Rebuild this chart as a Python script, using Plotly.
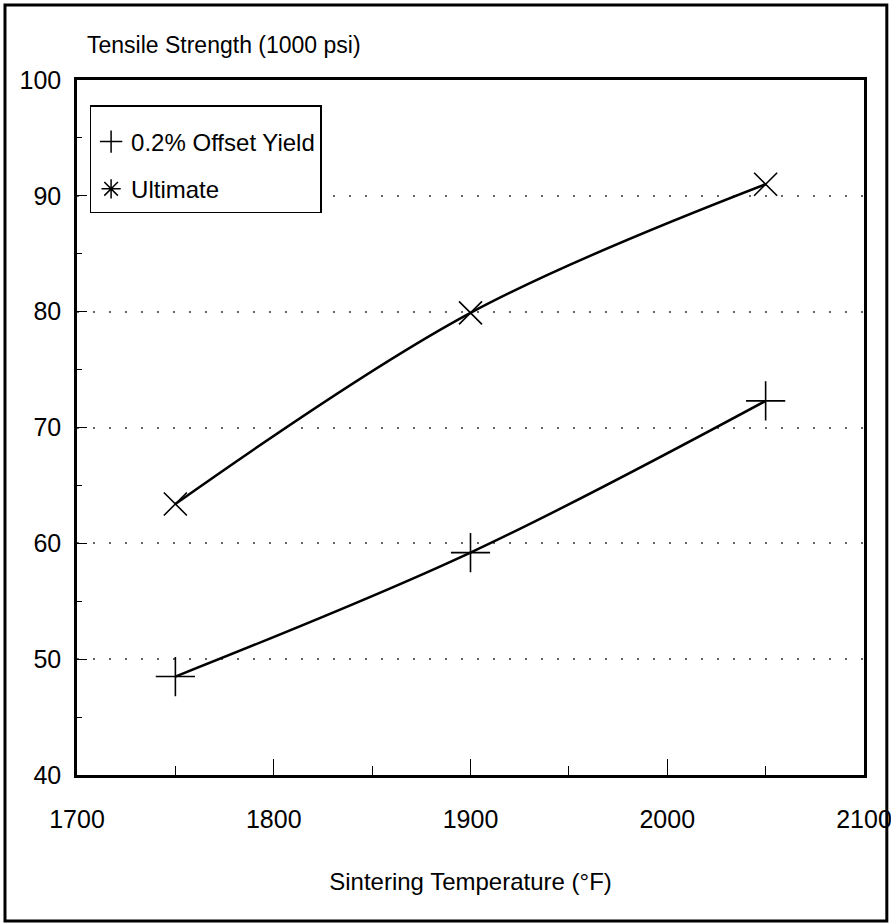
import plotly.graph_objects as go

temps = [1750, 1900, 2050]
yield_02 = [48.5, 59.2, 72.3]
ultimate = [63.4, 79.9, 91.0]

x_ticks = [1700, 1800, 1900, 2000, 2100]
y_ticks = [40, 50, 60, 70, 80, 90, 100]

FONT = "Liberation Sans, Arial, Helvetica, sans-serif"

fig = go.Figure()
fig.add_trace(go.Scatter(x=temps, y=yield_02, mode="lines+markers", line_shape="spline",
                         line=dict(color="black", width=2.5),
                         marker=dict(symbol="cross-thin", size=28, line=dict(color="black", width=1.6)),
                         showlegend=False))
fig.add_trace(go.Scatter(x=temps, y=ultimate, mode="lines+markers", line_shape="spline",
                         line=dict(color="black", width=2.5),
                         marker=dict(symbol="x-thin", size=23, line=dict(color="black", width=1.6)),
                         showlegend=False))
# legend entries
fig.add_trace(go.Scatter(x=[None], y=[None], mode="markers", name="0.2% Offset Yield",
                         legendgroup="a",
                         marker=dict(symbol="cross-thin", size=22, line=dict(color="black", width=1.5))))
fig.add_trace(go.Scatter(x=[None], y=[None], mode="markers", name="Ultimate",
                         legendgroup="b",
                         marker=dict(symbol="asterisk", size=20, line=dict(color="black", width=1.5))))

fig.update_layout(
    width=891, height=924,
    margin=dict(l=77, r=27, t=80, b=149, autoexpand=False),
    paper_bgcolor="white", plot_bgcolor="white",
    font=dict(family=FONT, size=25, color="black"),
    legend=dict(x=0.016, y=0.964, xanchor="left", yanchor="top",
                bordercolor="black", borderwidth=1.5, bgcolor="white",
                tracegroupgap=13, itemwidth=30,
                title=dict(text=" ", font=dict(size=10)),
                font=dict(family=FONT, size=24, color="black")),
    xaxis=dict(range=[1700, 2100], tickvals=x_ticks, ticks="inside", ticklen=16, tickwidth=1.2,
               tickcolor="black", showline=True, linecolor="black", linewidth=2.5, mirror=True,
               showgrid=False, zeroline=False, ticklabelstandoff=20, ticklabeloverflow="allow",
               automargin=False,
               minor=dict(dtick=50, ticks="inside", ticklen=9, tickwidth=1.2, tickcolor="black"),
               title=dict(text="Sintering Temperature (°F)", standoff=42, font=dict(size=24)),
               tickfont=dict(size=25)),
    yaxis=dict(range=[40, 100], tickvals=y_ticks, ticks="inside", ticklen=10, tickwidth=1.2,
               tickcolor="black", showline=True, linecolor="black", linewidth=2.5, mirror=True,
               showgrid=True, gridcolor="#666", gridwidth=1.5, griddash="2px,14px", zeroline=False,
               ticklabelstandoff=8, ticklabeloverflow="allow", automargin=False,
               minor=dict(dtick=5, ticks="inside", ticklen=5, tickwidth=1.2, tickcolor="black"),
               tickfont=dict(size=25)),
)

fig.add_annotation(text="Tensile Strength (1000 psi)", xref="paper", yref="paper",
                   x=0.010, y=1.050, xanchor="left", yanchor="middle", showarrow=False,
                   font=dict(family=FONT, size=23, color="black"))

fig.add_shape(type="rect", xref="paper", yref="paper",
              x0=-0.0915, x1=1.029, y0=-0.210, y1=1.108,
              line=dict(color="black", width=3), fillcolor="rgba(0,0,0,0)", layer="below")

fig.write_html("out.html", config={"displayModeBar": False},
               post_script="document.body.style.margin='0';document.body.style.overflow='hidden';")
